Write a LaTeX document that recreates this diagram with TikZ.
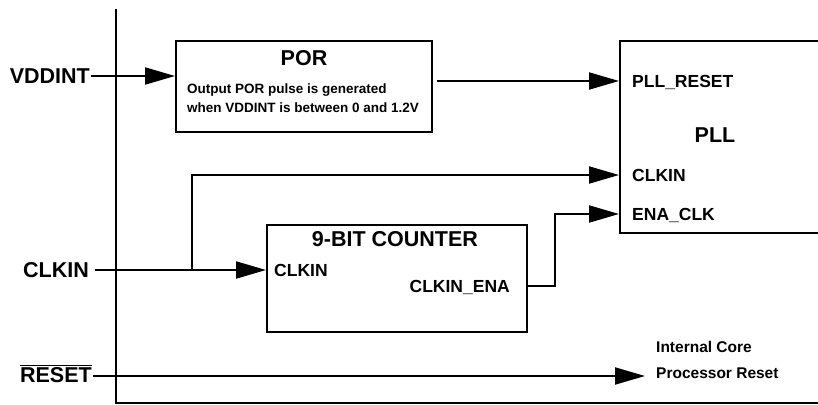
\documentclass[tikz,border=0pt]{standalone}
\usepackage{fontspec}
\setmainfont{Liberation Sans}
\usetikzlibrary{arrows.meta,calc}
\definecolor{rstInk}{HTML}{000000}
\tikzset{
  rst box/.style={draw=rstInk, line width=2pt, inner sep=0pt},
  rst wire/.style={draw=rstInk, line width=2pt},
  rst arrow/.style={rst wire, -{Triangle[length=30pt,width=17pt]}},
  rst big label/.style={font=\fontsize{21.5}{24}\selectfont\bfseries, text=rstInk, inner sep=1pt},
  rst pin label/.style={font=\fontsize{17.5}{20}\selectfont\bfseries, text=rstInk, inner sep=0pt, text depth=0pt},
  rst note/.style={font=\fontsize{13.5}{19}\selectfont\bfseries, text=rstInk, align=left, inner sep=0pt},
  rst side note/.style={font=\fontsize{15.5}{26}\selectfont\bfseries, text=rstInk, align=left, inner sep=0pt},
}

\begin{document}
\begin{tikzpicture}[x=1pt,y=-1pt]
  \useasboundingbox (0,0) rectangle (818,404);
  \clip (0,0) rectangle (818,404);

  % Blocks
  \node[rst box, minimum width=256pt, minimum height=91pt] (por) at (304,86.5) {};
  \node[rst box, minimum width=212pt, minimum height=192pt] (pll) at (726,137) {};
  \node[rst box, minimum width=260pt, minimum height=107pt] (cnt) at (397,278.5) {};

  % Block titles
  \node[rst big label] (portitle) at (304,58) {POR};
  \node[rst note, anchor=west] (portext) at (187,98.5) {Output POR pulse is generated\\when VDDINT is between 0 and 1.2V};
  \node[rst big label] (plltitle) at (715,135) {PLL};
  \node[rst big label] (cnttitle) at (395,239) {9-BIT COUNTER};

  % Pins
  \node[rst pin label, anchor=west] (pllrst) at (632,81) {PLL\_RESET};
  \node[rst pin label, anchor=west] (pllclk) at (632,175) {CLKIN};
  \node[rst pin label, anchor=west] (pllena) at (632,214) {ENA\_CLK};
  \node[rst pin label, anchor=west] (cntclk) at (274,270) {CLKIN};
  \node[rst pin label, anchor=east] (cntena) at (510,286) {CLKIN\_ENA};

  % Inputs
  \node[rst big label, anchor=east] (vdd) at (91,76) {VDDINT};
  \node[rst big label, anchor=east, inner xsep=6pt] (clk) at (95,270) {CLKIN};
  \node[rst big label, anchor=base east] (rst) at (93,382) {$\overline{\mbox{RESET}}$};

  % Core bus
  \coordinate (bustop) at (116,9);
  \coordinate (buscorner) at (116,403);
  \coordinate (busend) at (818,403);
  \draw[rst wire] (bustop) -- (buscorner) -- (busend);

  % Signals
  \draw[rst arrow] (vdd.east) -- (por.west |- vdd.east);
  \draw[rst arrow] ($(por.east |- pllrst.west)+(4,0)$) -- (pll.west |- pllrst.west);
  \coordinate (clkjoin) at (192,270);
  \draw[rst arrow] (clk.east) -- (cnt.west |- clk.east);
  \draw[rst arrow] (clkjoin) |- (pll.west |- pllclk.west);
  \draw[rst arrow] (cnt.east |- cntena.east) -- ++(27,0) |- (pll.west |- pllena.west);

  % Reset out
  \coordinate (rstend) at (645,376);
  \draw[rst arrow] (rst.east |- rstend) -- (rstend);
  \node[rst side note, anchor=west] (rstnote) at (656,360) {Internal Core\\Processor Reset};
\end{tikzpicture}
\end{document}
